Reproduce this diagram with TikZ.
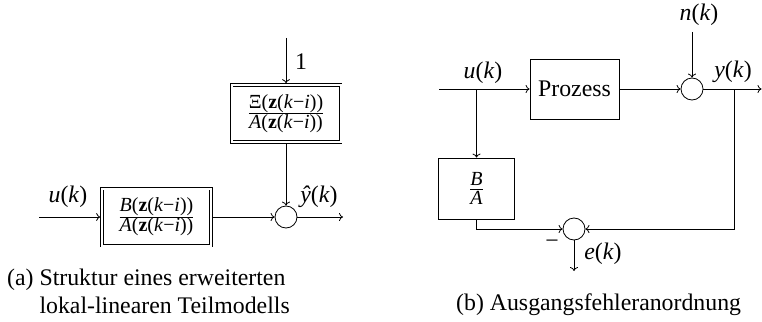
\documentclass[tikz,border=0pt]{standalone}
\usepackage{fontspec}
\setmainfont{Liberation Serif}
\usetikzlibrary{arrows.meta}
\newcommand{\vi}[1]{\textit{#1}}
\newcommand{\sig}[1]{\textit{#1}(\textit{k})}
\newcommand{\zk}{(\textbf{z}(\textit{k}−\textit{i}))}
\newcommand{\fr}[2]{$\frac{\hbox{\fontsize{20}{22}\selectfont #1}}{\hbox{\fontsize{20}{22}\selectfont #2}}$}
\tikzset{
  conn/.style={line width=0.8pt},
  arr/.style={conn, -{To[length=4pt,width=8pt]}},
  dblock/.style={draw, double, double distance=2pt, line width=0.8pt, minimum width=109pt, minimum height=57pt, inner sep=0pt, outer sep=1.8pt},
  block/.style={draw, line width=0.8pt, inner sep=0pt},
  sumc/.style={draw, circle, minimum size=22pt, inner sep=0pt, line width=0.8pt},
  lbl/.style={inner sep=0pt, font=\fontsize{23.8}{28.5}\selectfont},
}
\begin{document}
\begin{tikzpicture}[x=1pt,y=-1pt]
\useasboundingbox (0,0) rectangle (762,321);
\begin{scope}[font=\fontsize{23.8}{28.5}\selectfont]
% ---------- left ----------
\node[dblock] (xi) at (286,113.5) {\fr{Ξ\zk}{\vi{A}\zk}};
\node[dblock] (ba) at (156.5,217) {\fr{\vi{B}\zk}{\vi{A}\zk}};
\node[sumc] (s1) at (286,217) {};
\coordinate (in1) at (39,217);
\coordinate (top1) at (286,38);
\coordinate (out1) at (343,217);
\draw[arr] (in1) -- (ba);
\draw[arr] (top1) -- (xi);
\draw[arr] (xi) -- (s1);
\draw[arr] (ba) -- (s1);
\draw[arr] (s1) -- (out1);
\node[lbl] (lu1) at (68,197) {\sig{u}};
\node[lbl] (lone) at (301,62) {1};
\node[lbl] (ly1) at (319,197) {\textit{ŷ}(\textit{k})};
% ---------- right ----------
\node[block, minimum width=89pt, minimum height=60pt] (proc) at (574.5,89) {Prozess};
\node[sumc] (s2) at (692,89) {};
\node[block, minimum width=76pt, minimum height=61pt] (model) at (476.5,188.5) {\fr{\vi{B}}{\vi{A}}};
\node[sumc] (s3) at (574,229) {};
\coordinate (in2) at (439,89);
\coordinate (br1) at (476.5,89);
\coordinate (br2) at (734,89);
\coordinate (out2) at (761.5,89);
\coordinate (nk) at (692,32);
\coordinate (ek) at (574,271);
\draw[conn] (in2) -- (br1);
\draw[arr] (br1) -- (proc);
\draw[arr] (br1) -- (model);
\draw[arr] (proc) -- (s2);
\draw[arr] (nk) -- (s2);
\draw[arr] (s2) -- (out2);
\draw[arr] (br2) |- (s3);
\draw[arr] (model.south) |- (s3);
\draw[arr] (s3) -- (ek);
\node[lbl] (lu2) at (483,73) {\sig{u}};
\node[lbl] (ly2) at (733,72) {\sig{y}};
\node[lbl] (ln2) at (699,15) {\sig{n}};
\node[lbl] (le2) at (603,254) {\sig{e}};
\node[lbl] (lminus) at (552,244) {−};
% ---------- captions ----------
\node[inner sep=0pt, anchor=base west] (capa) at (7,285) {\begin{tabular}[t]{@{}l@{ }l@{}}(a)&Struktur eines erweiterten\\ &lokal-linearen Teilmodells\end{tabular}};
\node[inner sep=0pt, anchor=base west] (capb) at (456,310) {(b) Ausgangsfehleranordnung};
\end{scope}
\end{tikzpicture}
\end{document}
